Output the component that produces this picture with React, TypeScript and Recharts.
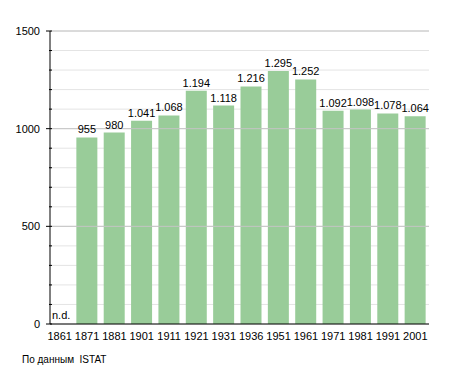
import React from 'react';
import { BarChart, Bar, XAxis, YAxis, CartesianGrid, LabelList, ReferenceLine } from 'recharts';

const years = ['1861', '1871', '1881', '1901', '1911', '1921', '1931', '1936', '1951', '1961', '1971', '1981', '1991', '2001'];
const population: (number | null)[] = [null, 955, 980, 1041, 1068, 1194, 1118, 1216, 1295, 1252, 1092, 1098, 1078, 1064];
const yTicks = [0, 100, 200, 300, 400, 500, 600, 700, 800, 900, 1000, 1100, 1200, 1300, 1400, 1500];
const majorTicks = [500, 1000, 1500];
const sourceNote = 'По данным  ISTAT';

const data = years.map((y, i) => ({ year: y, pop: population[i] }));

const FONT = '"Liberation Sans", Arial, sans-serif';

const fmt = (v: number) => {
  const s = String(v);
  return s.length > 3 ? s.slice(0, s.length - 3) + '.' + s.slice(s.length - 3) : s;
};

const YTick = (props: any) => {
  const { x, y, payload } = props;
  const v = payload.value;
  const major = v % 500 === 0;
  const ax = x;
  return (
    <g>
      <line x1={ax + 8 - (major ? 6 : 3)} x2={ax + 8} y1={y} y2={y} stroke="#000" strokeWidth={1} />
      {major && (
        <text x={ax - 4} y={y} dy={4} textAnchor="end" fontSize={11} fontFamily={FONT} fill="#000">
          {v}
        </text>
      )}
    </g>
  );
};

const renderLabel = (props: any) => {
  const { x, y, width, value } = props;
  if (value === null || value === undefined) {
    return null;
  }
  return (
    <text x={x + width / 2} y={y - 4} textAnchor="middle" fontSize={11} fontFamily={FONT} fill="#000">
      {fmt(value)}
    </text>
  );
};

export default function App() {
  return (
    <div style={{ position: 'absolute', left: 0, top: 0, width: 455, height: 373, background: '#fff' }}>
      <BarChart
        width={455}
        height={373}
        data={data}
        margin={{ top: 31, right: 26, bottom: 29, left: 0 }}
        barCategoryGap={3}
      >
        <CartesianGrid vertical={false} stroke="#e4e4e4" />
        {majorTicks.map((t) => (
          <ReferenceLine key={t} y={t} stroke="#c4c4c4" />
        ))}
        <XAxis
          dataKey="year"
          height={20}
          tickLine={false}
          axisLine={{ stroke: '#000' }}
          tick={{ fontSize: 11, fontFamily: FONT, fill: '#000' }}
          tickMargin={2}
          interval={0}
          padding={{ left: -4, right: 0 }}
        />
        <YAxis
          width={50}
          domain={[0, 1500]}
          ticks={yTicks}
          interval={0}
          tickLine={false}
          axisLine={{ stroke: '#000' }}
          tick={<YTick />}
          tickMargin={0}
        />
        <Bar dataKey="pop" fill="#99cc99" isAnimationActive={false}>
          <LabelList dataKey="pop" content={renderLabel} />
        </Bar>
      </BarChart>
      <div style={{ position: 'absolute', left: 52, top: 309, fontSize: 11, fontFamily: FONT, color: '#000' }}>n.d.</div>
      <div style={{ position: 'absolute', left: 22, top: 354, fontSize: 10, fontFamily: FONT, color: '#000', whiteSpace: 'pre' }}>
        {sourceNote}
      </div>
    </div>
  );
}
